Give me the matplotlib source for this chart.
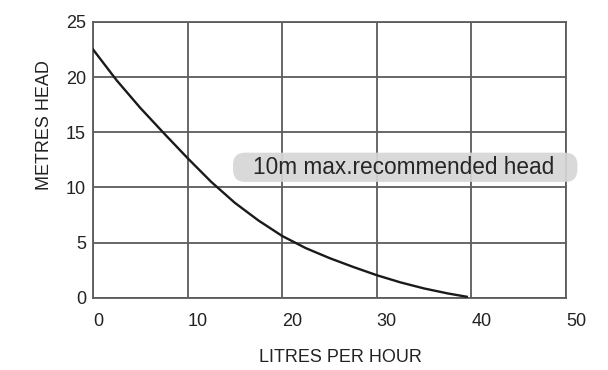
import numpy as np
import matplotlib
matplotlib.use("Agg")
import matplotlib.pyplot as plt
from matplotlib.patches import FancyBboxPatch

# pump curve
flow_lph = [0, 2.5, 5, 7.5, 10, 12.5, 15, 17.5, 20, 22.5, 25, 27.5, 30, 32.5, 35, 37.5, 39.5]
head_m = [22.5, 19.7, 17.2, 14.9, 12.65, 10.5, 8.6, 7.0, 5.6, 4.5, 3.6, 2.8, 2.05, 1.4, 0.85, 0.4, 0.1]

x_ticks = [0, 10, 20, 30, 40, 50]
y_ticks = [0, 5, 10, 15, 20, 25]
note = "10m max.recommended head"

plt.rcParams['font.family'] = ['Liberation Sans', 'DejaVu Sans']

fig = plt.figure(figsize=(6.08, 3.70), dpi=100)
ax = fig.add_axes([0.153, 0.195, 0.778, 0.746])

grid_col = '#5c5c5c'
text_col = '#222222'
ax.plot(flow_lph, head_m, color='#1a1a1a', lw=1.7, zorder=3)

ax.set_xlim(0, 50)
ax.set_ylim(0, 25)
ax.set_xticks(x_ticks)
ax.set_yticks(y_ticks)
ax.grid(True, color=grid_col, lw=1.3)
for s in ax.spines.values():
    s.set_color(grid_col)
    s.set_linewidth(1.3)
ax.tick_params(length=0, labelsize=13, colors=text_col)
ax.tick_params(axis='x', pad=11)
ax.tick_params(axis='y', pad=5)
for lab in ax.get_xticklabels():
    lab.set_horizontalalignment('left')

ax.set_xlabel('LITRES PER HOUR', fontsize=13, color=text_col)
ax.xaxis.set_label_coords(0.522, -0.185)
ax.set_ylabel('METRES HEAD', fontsize=13, color=text_col)
ax.yaxis.set_label_coords(-0.084, 0.627)

# rounded grey label for the recommended head
box = FancyBboxPatch((14.8, 10.5), 36.4, 2.65,
                     boxstyle='round,pad=0,rounding_size=1.3',
                     mutation_aspect=9.46 / 11.04,
                     fc='#d6d6d6', ec='none', alpha=0.92, zorder=4, clip_on=False)
ax.add_patch(box)
ax.text(16.9, 11.85, note, fontsize=16.3, color='#262626', va='center', ha='left',
        zorder=5, clip_on=False)

fig.savefig('out.png', dpi=100)
